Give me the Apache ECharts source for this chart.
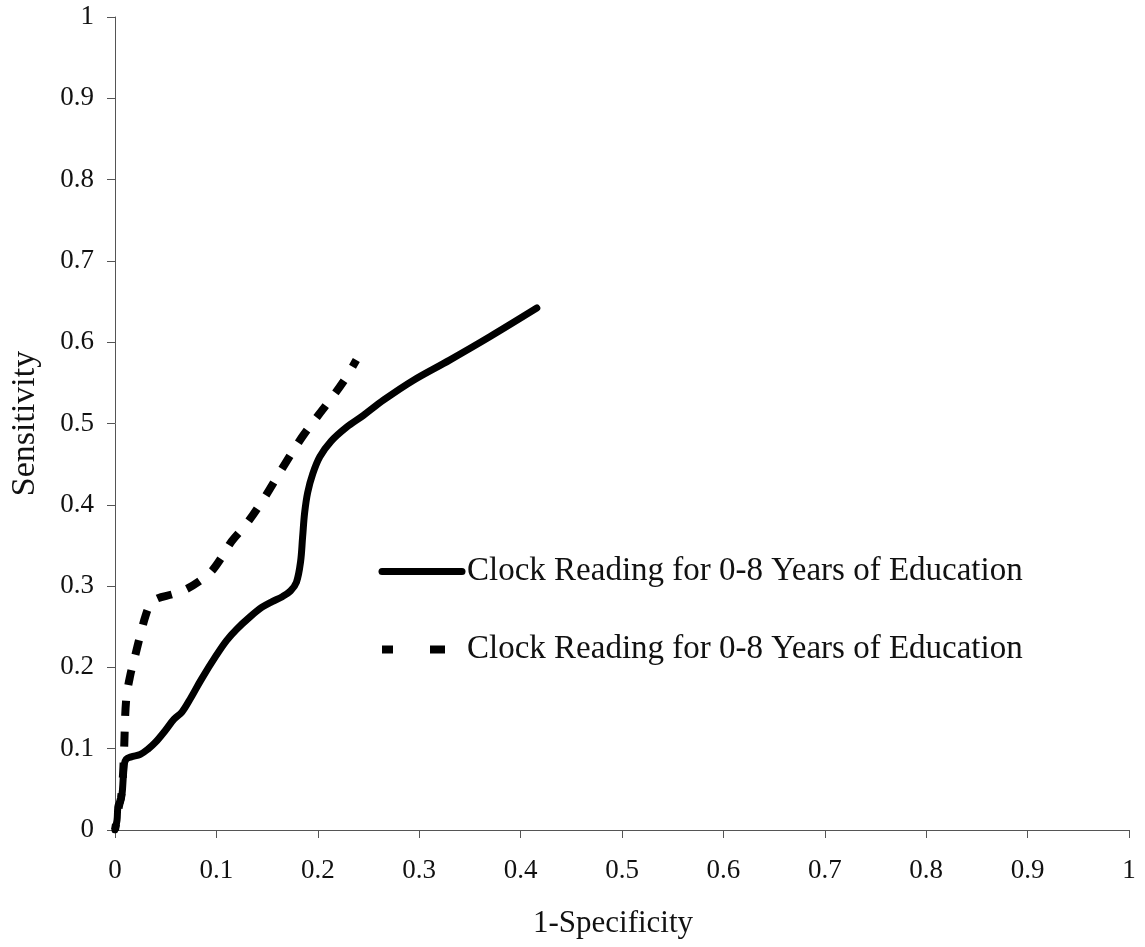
<!DOCTYPE html>
<html>
<head>
<meta charset="utf-8">
<title>ROC curves</title>
<script src="https://cdn.jsdelivr.net/npm/echarts@6/dist/echarts.min.js"></script>
<style>
  html, body { margin: 0; padding: 0; background: #fff; }
  #chart { width: 1145px; height: 947px; }
</style>
</head>
<body>
<div id="chart"></div>
<script>
// ROC points: [1-specificity, sensitivity]
const solidCurve = [
  [0, 0], [0.002, 0.012], [0.003, 0.03], [0.005, 0.034], [0.007, 0.045],
  [0.008, 0.062], [0.009, 0.08], [0.011, 0.087], [0.016, 0.09], [0.025, 0.093],
  [0.033, 0.1], [0.04, 0.108], [0.05, 0.123], [0.058, 0.136], [0.066, 0.145],
  [0.075, 0.163], [0.085, 0.185], [0.1, 0.215], [0.11, 0.233], [0.12, 0.247],
  [0.133, 0.262], [0.145, 0.274], [0.155, 0.281], [0.165, 0.287], [0.173, 0.294],
  [0.179, 0.305], [0.183, 0.33], [0.185, 0.36], [0.187, 0.39], [0.19, 0.415],
  [0.195, 0.438], [0.202, 0.459], [0.213, 0.478], [0.228, 0.495], [0.245, 0.51],
  [0.265, 0.529], [0.294, 0.553], [0.33, 0.578], [0.37, 0.607], [0.416, 0.642]
];
const dashedCurve = [
  [0, 0], [0.002, 0.015], [0.004, 0.03], [0.006, 0.04], [0.008, 0.07],
  [0.009, 0.1], [0.011, 0.16], [0.015, 0.19], [0.02, 0.215], [0.025, 0.24],
  [0.03, 0.263], [0.035, 0.278], [0.042, 0.285], [0.057, 0.29], [0.07, 0.296],
  [0.082, 0.305], [0.095, 0.318], [0.105, 0.335], [0.115, 0.355], [0.13, 0.377],
  [0.148, 0.41], [0.166, 0.447], [0.186, 0.486], [0.209, 0.524], [0.225, 0.551],
  [0.238, 0.578]
];
const seriesNames = [
  'Clock Reading for 0-8 Years of Education',
  'Clock Reading for 0-8 Years of Education '
];
const tickLabels = ['0', '0.1', '0.2', '0.3', '0.4', '0.5', '0.6', '0.7', '0.8', '0.9', '1'];
const xAxisName = '1-Specificity';
const yAxisName = 'Sensitivity';

const serif = '"Liberation Serif", "Times New Roman", serif';
const axisColor = '#555';
const tickFormatter = v => tickLabels[Math.round(v * 10)];
const noSymbol = { color: 'rgba(0,0,0,0)', borderWidth: 0, opacity: 0 };

const chart = echarts.init(document.getElementById('chart'), null, { renderer: 'canvas' });
chart.setOption({
  backgroundColor: '#fff',
  animation: false,
  grid: { left: 115, right: 16, top: 17, bottom: 117, containLabel: false },
  legend: {
    orient: 'vertical',
    left: 378,
    top: 555,
    padding: 0,
    itemWidth: 80,
    itemHeight: 8,
    itemGap: 45,
    textStyle: { fontFamily: serif, fontSize: 33, color: '#111' },
    data: [
      { name: seriesNames[0], itemStyle: noSymbol,
        lineStyle: { width: 7, type: 'solid', cap: 'round' } },
      { name: seriesNames[1], itemStyle: noSymbol,
        lineStyle: { width: 8, type: [11, 37, 15, 100], dashOffset: 0, cap: 'butt' } }
    ]
  },
  xAxis: {
    type: 'value', min: 0, max: 1, interval: 0.1,
    name: xAxisName, nameLocation: 'middle', nameGap: 78,
    nameTextStyle: { fontFamily: serif, fontSize: 31, color: '#111', padding: [0, 18, 0, 0] },
    axisLine: { show: true, lineStyle: { color: axisColor, width: 1 } },
    axisTick: { show: true, length: 8, lineStyle: { color: axisColor } },
    axisLabel: { margin: 27, fontFamily: serif, fontSize: 27, color: '#111', formatter: tickFormatter },
    splitLine: { show: false }
  },
  yAxis: {
    type: 'value', min: 0, max: 1, interval: 0.1,
    name: yAxisName, nameLocation: 'middle', nameGap: 73,
    nameTextStyle: { fontFamily: serif, fontSize: 34, color: '#111' },
    axisLine: { show: true, lineStyle: { color: axisColor, width: 1 } },
    axisTick: { show: true, length: 8, lineStyle: { color: axisColor } },
    axisLabel: { margin: 21, fontFamily: serif, fontSize: 27, color: '#111', formatter: tickFormatter },
    splitLine: { show: false }
  },
  series: [
    {
      name: seriesNames[0], type: 'line', data: solidCurve,
      symbol: 'none', smooth: 0.35,
      lineStyle: { color: '#000', width: 7, cap: 'round', join: 'round' },
      itemStyle: { color: '#000' }
    },
    {
      name: seriesNames[1], type: 'line', data: dashedCurve,
      symbol: 'none', smooth: 0.35,
      lineStyle: { color: '#000', width: 8, type: [15, 16], dashOffset: 9, cap: 'butt' },
      itemStyle: { color: '#000' }
    }
  ]
});
</script>
</body>
</html>
